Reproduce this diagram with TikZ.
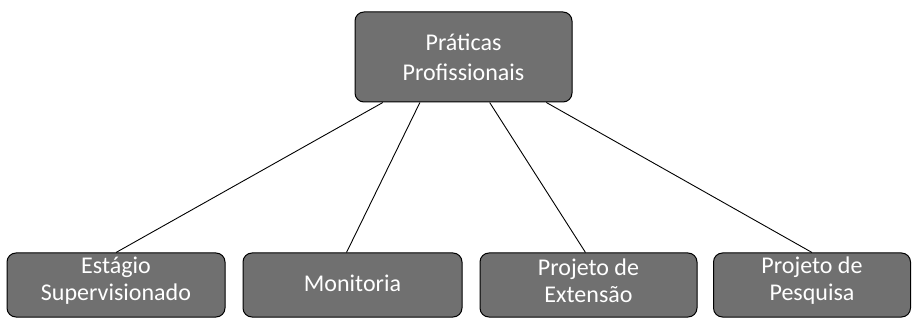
\documentclass[tikz,border=0pt]{standalone}
\usepackage{fontspec}
\setmainfont{Carlito}
\usetikzlibrary{calc}
\begin{document}
\begin{tikzpicture}[x=1pt,y=-1pt,
  box/.style={draw=black, line width=1pt, fill=boxgray, rounded corners=9pt,
    inner sep=0pt, minimum height=64pt},
  lab/.style={text=white, font=\fontsize{24}{27}\selectfont, align=center, inner sep=0pt},
  link/.style={draw=black, line width=0.9pt}]
\definecolor{boxgray}{RGB}{112,112,112}
\useasboundingbox (0,0) rectangle (918,320);
\node[box, minimum width=217pt, minimum height=90pt, lab, font=\fontsize{24}{30}\selectfont] (p) at (463.5,57) {Práticas\\Profissionais};
\node[box, minimum width=218pt] (c1) at (116,285) {};
\node[box, minimum width=219pt] (c2) at (352.5,285) {};
\node[box, minimum width=217pt] (c3) at (588.5,285) {};
\node[box, minimum width=197pt] (c4) at (812,285) {};
\node[lab] (t1) at ($(c1.center)+(0,-4)$) {Estágio\\Supervisionado};
\node[lab] (t2) at ($(c2.center)+(0,-2)$) {Monitoria};
\node[lab] (t3) at ($(c3.center)+(0,-4)$) {Projeto de\\Extensão};
\node[lab] (t4) at ($(c4.center)+(0,-4)$) {Projeto de\\Pesquisa};
\coordinate (a1) at ($(p.south west)!0.13!(p.south east)$);
\coordinate (a2) at ($(p.south west)!0.30!(p.south east)$);
\coordinate (a3) at ($(p.south west)!0.62!(p.south east)$);
\coordinate (a4) at ($(p.south west)!0.88!(p.south east)$);
\draw[link] (a1) -- (c1.north);
\draw[link] (a2) -- ($(c2.north)+(-6,0)$);
\draw[link] (a3) -- ($(c3.north)+(-3,0)$);
\draw[link] (a4) -- (c4.north);
\end{tikzpicture}
\end{document}
